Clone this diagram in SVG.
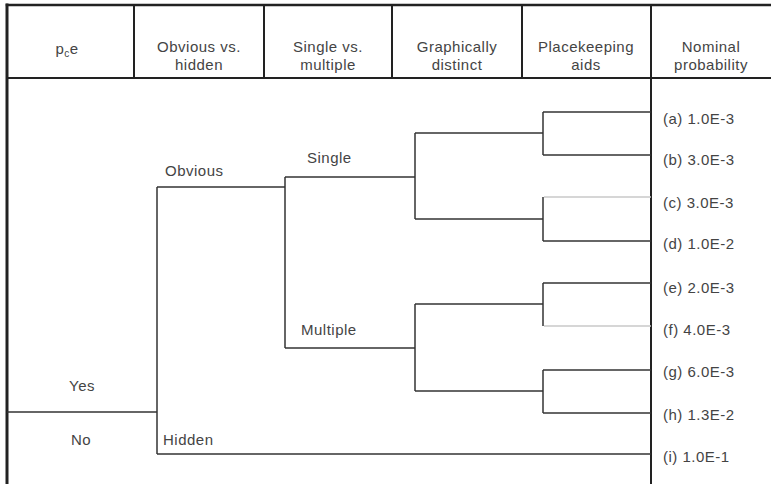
<svg xmlns="http://www.w3.org/2000/svg" width="771" height="484" viewBox="0 0 771 484">
<style>
.t{font-family:"Liberation Sans",Arial,sans-serif;font-size:15px;fill:#444;letter-spacing:0.5px}
.c{text-anchor:middle}
.frame{stroke:#222;fill:none;stroke-linecap:square}
.ln{stroke:#333;stroke-width:1.5;fill:none}
.lt{stroke:#c8c8c8;stroke-width:1.5;fill:none}
</style>
<rect width="771" height="484" fill="#fff"/>
<g id="frame">
<line class="frame" x1="7" y1="5" x2="771" y2="5" stroke-width="2.5"/>
<line class="frame" x1="7" y1="5" x2="7" y2="484" stroke-width="3"/>
<line class="frame" x1="7" y1="78" x2="771" y2="78" stroke-width="2"/>
<line class="frame" x1="134" y1="5" x2="134" y2="78" stroke-width="2"/>
<line class="frame" x1="264" y1="5" x2="264" y2="78" stroke-width="2"/>
<line class="frame" x1="392" y1="5" x2="392" y2="78" stroke-width="2"/>
<line class="frame" x1="522" y1="5" x2="522" y2="78" stroke-width="2"/>
<line class="frame" x1="651" y1="5" x2="651" y2="484" stroke-width="2"/>
</g>
<g id="header">
<g id="h-pce"><text class="t c" x="67" y="54">p<tspan font-size="10" dy="3">c</tspan><tspan dy="-3">e</tspan></text></g>
<g id="h-obvious"><text class="t c" x="199" y="52">Obvious vs.</text><text class="t c" x="199" y="70">hidden</text></g>
<g id="h-single"><text class="t c" x="328" y="52">Single vs.</text><text class="t c" x="328" y="70">multiple</text></g>
<g id="h-graph"><text class="t c" x="457" y="52">Graphically</text><text class="t c" x="457" y="70">distinct</text></g>
<g id="h-place"><text class="t c" x="586" y="52">Placekeeping</text><text class="t c" x="586" y="70">aids</text></g>
<g id="h-nominal"><text class="t c" x="711" y="52">Nominal</text><text class="t c" x="711" y="70">probability</text></g>
</g>
<g id="connectors">
<polyline class="ln" points="7,412 157,412"/>
<polyline class="ln" points="157,187 157,454"/>
<polyline class="ln" points="157,187 285,187"/>
<polyline class="ln" points="157,454 651,454"/>
<polyline class="ln" points="285,177 285,348"/>
<polyline class="ln" points="285,177 415,177"/>
<polyline class="ln" points="285,348 415,348"/>
<polyline class="ln" points="415,133 415,219"/>
<polyline class="ln" points="415,133 543,133"/>
<polyline class="ln" points="415,219 543,219"/>
<polyline class="ln" points="415,304 415,391"/>
<polyline class="ln" points="415,304 543,304"/>
<polyline class="ln" points="415,391 543,391"/>
<polyline class="ln" points="543,112 543,155"/>
<polyline class="ln" points="543,112 651,112"/>
<polyline class="ln" points="543,155 651,155"/>
<polyline class="ln" points="543,197 543,241"/>
<polyline class="lt" points="544,197 651,197"/>
<polyline class="ln" points="543,241 651,241"/>
<polyline class="ln" points="543,283 543,326"/>
<polyline class="ln" points="543,283 651,283"/>
<polyline class="lt" points="544,326 651,326"/>
<polyline class="ln" points="543,370 543,413"/>
<polyline class="ln" points="543,370 651,370"/>
<polyline class="ln" points="543,413 651,413"/>
</g>
<g id="n-yes"><text class="t c" x="82" y="391">Yes</text></g>
<g id="n-no"><text class="t c" x="81" y="445">No</text></g>
<g id="n-obvious"><text class="t" x="165" y="176">Obvious</text></g>
<g id="n-hidden"><text class="t" x="163" y="445">Hidden</text></g>
<g id="n-single"><text class="t" x="307" y="163">Single</text></g>
<g id="n-multiple"><text class="t" x="301" y="335">Multiple</text></g>
<g id="n-a"><text class="t" x="663" y="124">(a) 1.0E-3</text></g>
<g id="n-b"><text class="t" x="663" y="165">(b) 3.0E-3</text></g>
<g id="n-c"><text class="t" x="663" y="208">(c) 3.0E-3</text></g>
<g id="n-d"><text class="t" x="663" y="249">(d) 1.0E-2</text></g>
<g id="n-e"><text class="t" x="663" y="293">(e) 2.0E-3</text></g>
<g id="n-f"><text class="t" x="663" y="335">(f) 4.0E-3</text></g>
<g id="n-g"><text class="t" x="663" y="377">(g) 6.0E-3</text></g>
<g id="n-h"><text class="t" x="663" y="420">(h) 1.3E-2</text></g>
<g id="n-i"><text class="t" x="663" y="462">(i) 1.0E-1</text></g>
</svg>
